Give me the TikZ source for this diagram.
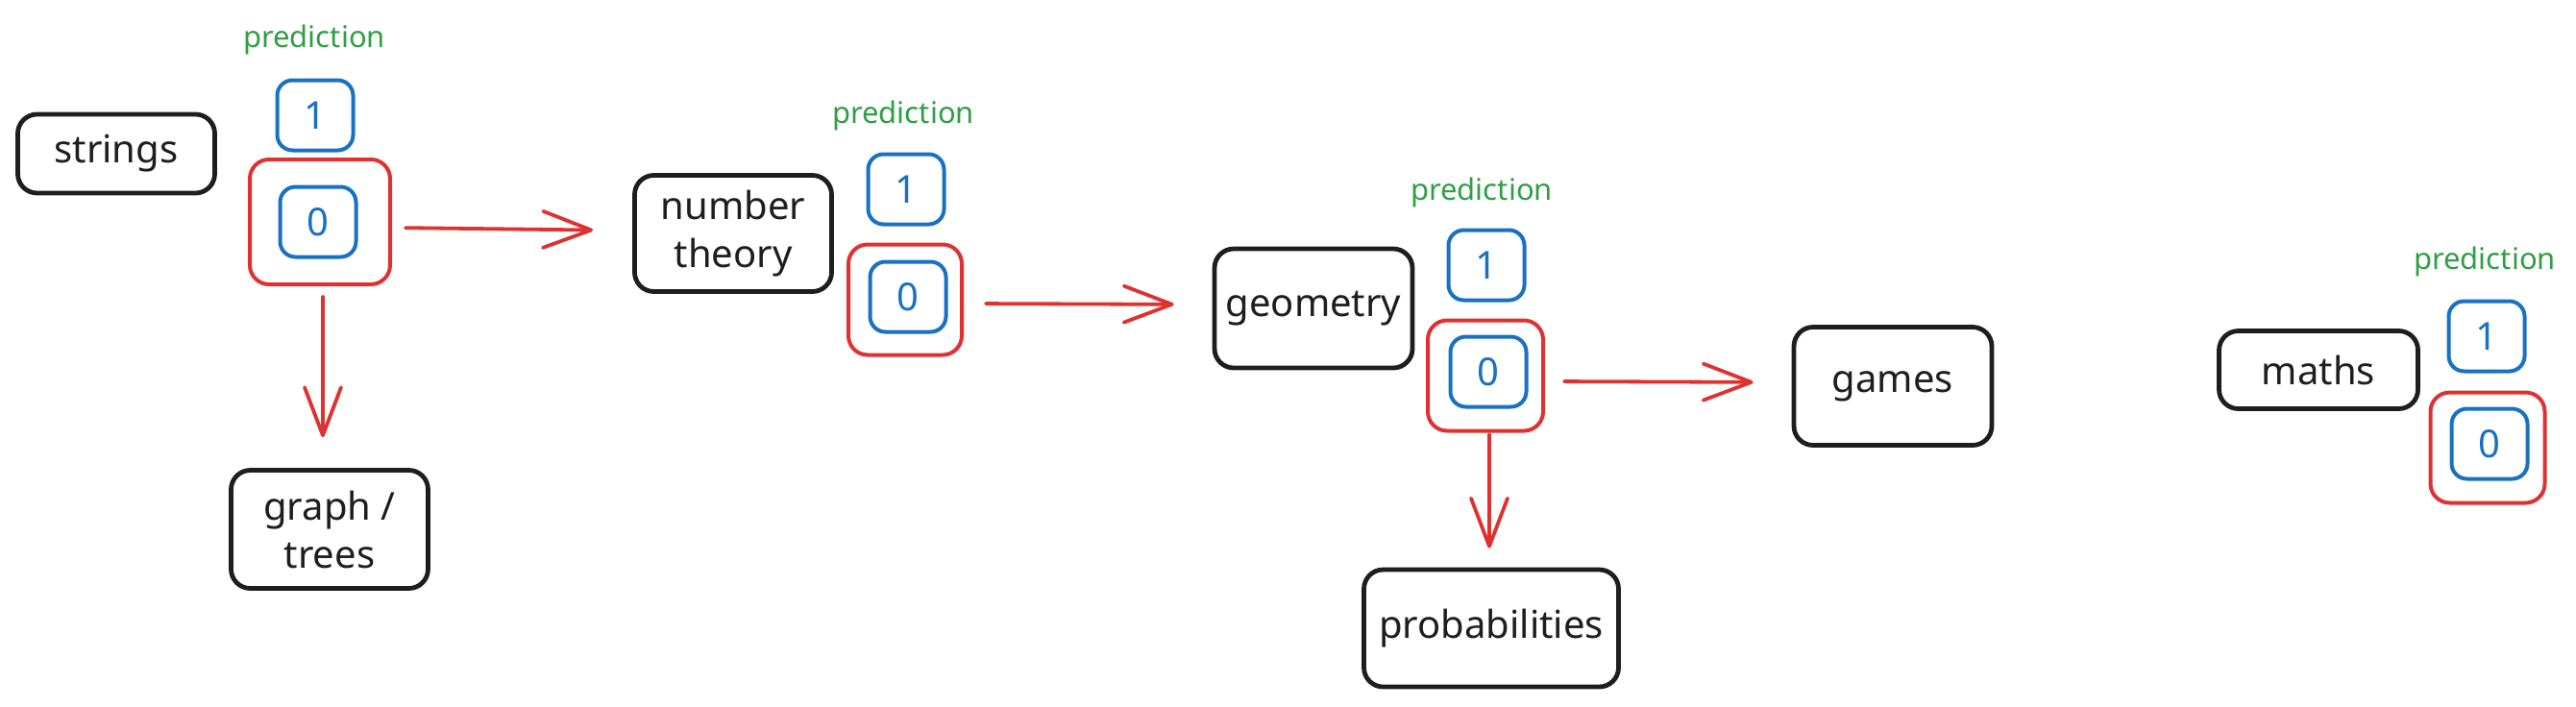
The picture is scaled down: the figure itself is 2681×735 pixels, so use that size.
\documentclass[tikz,border=0pt]{standalone}
\usepackage{fontspec}
\setmainfont{Noto Sans}
\usetikzlibrary{arrows.meta}
\definecolor{ink}{HTML}{1E1E1E}
\definecolor{exred}{HTML}{E03131}
\definecolor{exblue}{HTML}{1971C2}
\definecolor{exgreen}{HTML}{2F9E44}
\tikzset{
  topic/.style={draw=ink, line width=2.4pt, rounded corners=10pt, align=center,
    text=ink, font=\fontsize{20}{25}\selectfont, inner sep=0pt},
  bit/.style={draw=exblue, line width=2pt, rounded corners=8pt, text=exblue,
    font=\fontsize{20}{24}\selectfont, minimum width=39.5pt, minimum height=36.5pt, inner sep=0pt},
  pick/.style={draw=exred, line width=2pt, rounded corners=10pt, inner sep=0pt},
  predlabel/.style={text=exgreen, font=\fontsize{15.5}{18}\selectfont, inner sep=0pt},
  flow/.style={draw=exred, line width=1.9pt, line cap=round,
    -{Straight Barb[length=25pt,width=19pt,line cap=round,line join=round]}}
}
\begin{document}
\begin{tikzpicture}[x=0.5pt,y=-0.5pt]
\useasboundingbox (0,0) rectangle (2681,735);

% group 1
\node[topic, minimum width=102.5pt, minimum height=41pt] (strings) at (121,160) {strings};
\node[predlabel] (pred1) at (327,41) {prediction};
\node[bit] (one1) at (328,120) {1};
\node[pick, minimum width=73pt, minimum height=65pt] (red1) at (333,231) {};
\node[bit] (zero1) at (331,231) {0};
\node[topic, minimum width=102.5pt, minimum height=61.5pt] (graph) at (343,551) {graph /\\trees};

% group 2
\node[topic, minimum width=102.5pt, minimum height=60.5pt] (nt) at (763,243) {number\\theory};
\node[predlabel] (pred2) at (940,120) {prediction};
\node[bit] (one2) at (943,197) {1};
\node[pick, minimum width=59pt, minimum height=57.5pt] (red2) at (942,312) {};
\node[bit] (zero2) at (945,309) {0};

% group 3
\node[topic, minimum width=103pt, minimum height=62pt] (geo) at (1367,321) {geometry};
\node[predlabel] (pred3) at (1542,200) {prediction};
\node[bit] (one3) at (1547,276) {1};
\node[pick, minimum width=60pt, minimum height=57.5pt] (red3) at (1546,391) {};
\node[bit] (zero3) at (1549,387) {0};
\node[topic, minimum width=132.5pt, minimum height=61pt] (prob) at (1552,654) {probabilities};
\node[topic, minimum width=103pt, minimum height=61.5pt] (games) at (1970,402) {games};

% group 4
\node[topic, minimum width=103.5pt, minimum height=40.5pt] (maths) at (2413,385) {maths};
\node[predlabel] (pred4) at (2586,272) {prediction};
\node[bit] (one4) at (2588,350) {1};
\node[pick, minimum width=59.5pt, minimum height=57.5pt] (red4) at (2589,466) {};
\node[bit] (zero4) at (2591,462) {0};

% connectors
\draw[flow, shorten <=7pt, shorten >=20.5pt] ([yshift=-3pt]red1.east) -- ([yshift=1.5pt]nt.west);
\draw[flow, shorten <=5.5pt, shorten >=16pt] ([xshift=1.5pt]red1.south) -- ([xshift=-3.5pt]graph.north);
\draw[flow, shorten <=11.5pt, shorten >=20pt] ([yshift=-2pt]red2.east) -- ([yshift=2pt]geo.west);
\draw[flow, shorten <=10pt, shorten >=20pt] ([yshift=-3pt]red3.east) -- ([yshift=2pt]games.west);
\draw[flow, shorten <=1pt, shorten >=10pt] ([xshift=2pt]red3.south) -- ([xshift=-1pt]prob.north);
\end{tikzpicture}
\end{document}
